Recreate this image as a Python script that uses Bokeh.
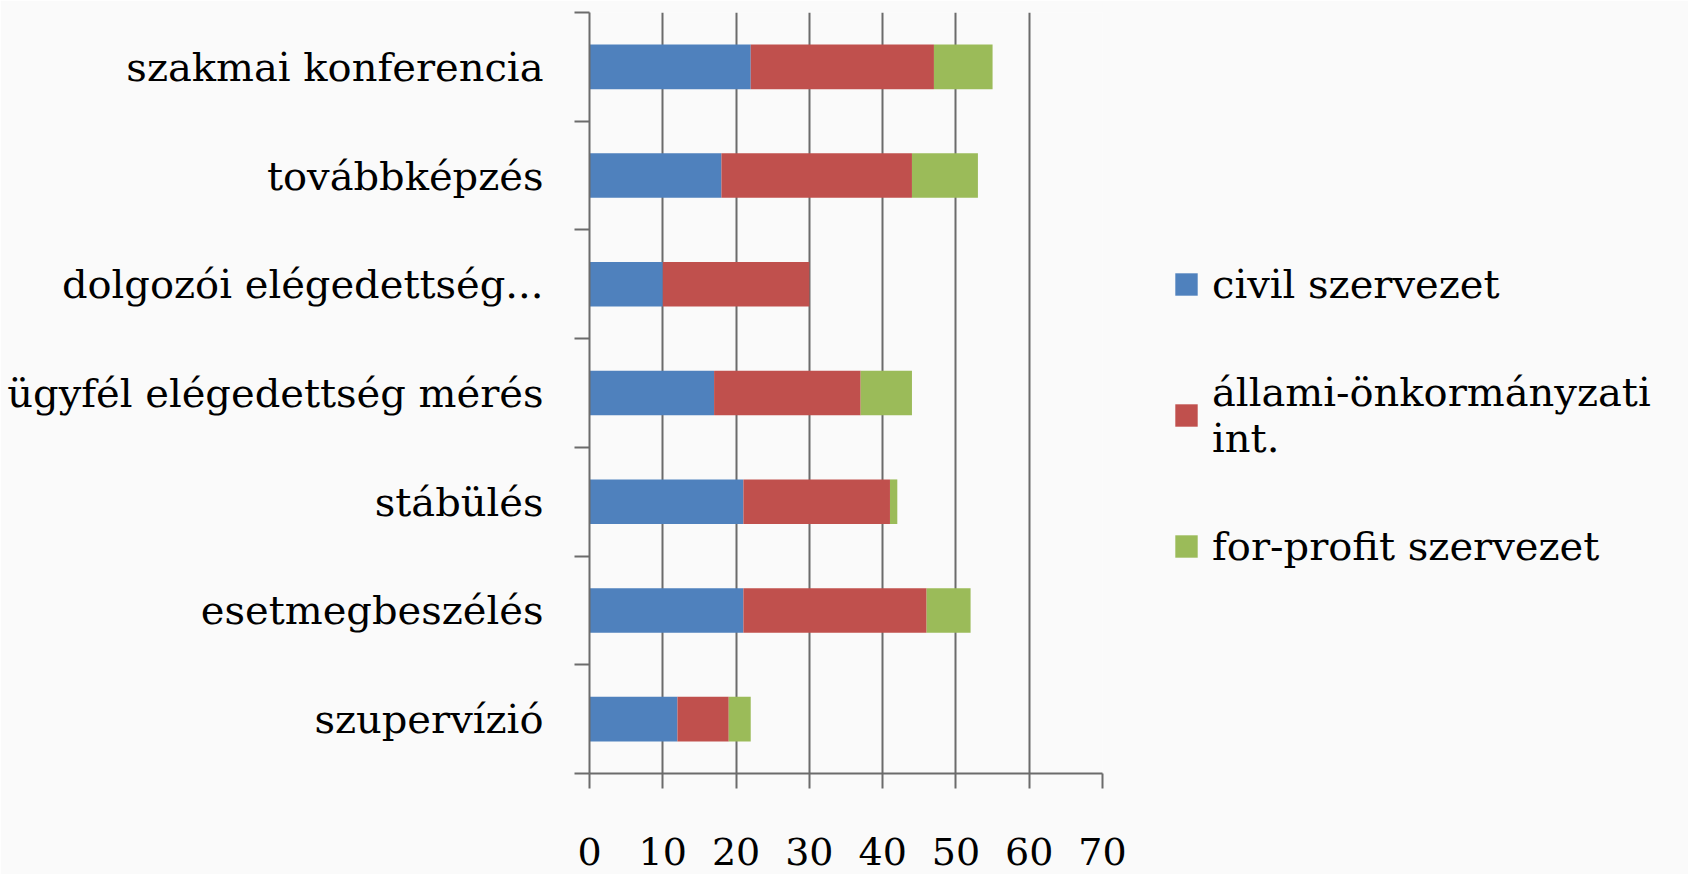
from bokeh.plotting import figure
from bokeh.models import FixedTicker, Legend, LegendItem, ColumnDataSource, Range1d
from bokeh.embed import file_html
from bokeh.resources import INLINE

# ---- data ----
categories = ["szupervízió", "esetmegbeszélés", "stábülés",
              "ügyfél elégedettség mérés", "dolgozói elégedettség...",
              "továbbképzés", "szakmai konferencia"]
civil = [12, 21, 21, 17, 10, 18, 22]
allami = [7, 25, 20, 20, 20, 26, 25]
forprofit = [3, 6, 1, 7, 0, 9, 8]
series_keys = ["civil", "allami", "forprofit"]
series_labels = ["civil szervezet", "állami-önkormányzati\nint.", "for-profit szervezet"]
colors = ["#4F81BD", "#C0504D", "#9BBB59"]
x_ticks = [0, 10, 20, 30, 40, 50, 60, 70]

FONT = "DejaVu Serif"
BG = "#fafafa"

ypos = [i + 0.5 for i in range(len(categories))]
source = ColumnDataSource(dict(y=ypos, civil=civil, allami=allami, forprofit=forprofit))

p = figure(width=1688, height=874, output_backend="svg", toolbar_location=None,
           x_range=Range1d(0, 70), y_range=Range1d(0, len(categories)),
           frame_width=513, frame_height=761,
           min_border_left=589, min_border_top=12, min_border_right=586, min_border_bottom=101)
p.outline_line_color = None
p.background_fill_color = BG
p.border_fill_color = BG

renderers = p.hbar_stack(series_keys, y="y", height=0.41, color=colors, source=source,
                         line_color=None)

# x axis
xa = p.xaxis[0]
xa.ticker = FixedTicker(ticks=x_ticks)
xa.axis_line_color = "#6b6b6b"
xa.axis_line_width = 2
xa.major_tick_line_color = "#6b6b6b"
xa.major_tick_line_width = 2
xa.major_tick_out = 15
xa.major_tick_in = 0
xa.minor_tick_line_color = None
xa.major_label_text_font = FONT
xa.major_label_text_font_size = "38px"
xa.major_label_text_color = "#000000"
xa.major_label_standoff = 49

# y axis: labels at category centres, ticks at category boundaries
ya = p.yaxis[0]
ya.ticker = FixedTicker(ticks=ypos, minor_ticks=list(range(len(categories) + 1)))
ya.major_label_overrides = {y: c for y, c in zip(ypos, categories)}
ya.axis_line_color = "#6b6b6b"
ya.axis_line_width = 2
ya.major_tick_line_color = None
ya.major_tick_out = 0
ya.major_tick_in = 0
ya.minor_tick_line_color = "#6b6b6b"
ya.minor_tick_line_width = 2
ya.minor_tick_out = 15
ya.minor_tick_in = 0
ya.major_label_text_font = FONT
ya.major_label_text_font_size = "40px"
ya.major_label_text_color = "#000000"
ya.major_label_standoff = 31

p.xgrid.grid_line_color = "#6b6b6b"
p.xgrid.grid_line_width = 2
p.xgrid.ticker = FixedTicker(ticks=x_ticks)
p.ygrid.grid_line_color = None

legend = Legend(items=[LegendItem(label=l, renderers=[r]) for l, r in zip(series_labels, renderers)],
                location=(70, 204), orientation="vertical",
                glyph_width=28, glyph_height=28, label_standoff=12,
                label_text_font=FONT, label_text_font_size="40px",
                label_text_color="#000000", spacing=62, padding=0, margin=0,
                background_fill_alpha=0, border_line_color=None)
p.add_layout(legend, "right")

open("out.html", "w").write(file_html(p, INLINE))
